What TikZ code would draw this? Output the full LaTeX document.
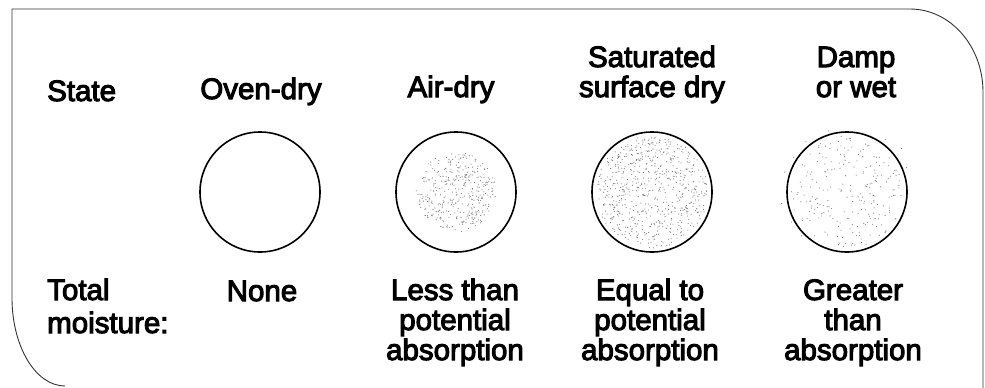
\documentclass[tikz,border=0pt]{standalone}
\usepackage{fontspec}
\setmainfont{Liberation Sans}
\newfontfamily\hvb{Liberation Sans}[FakeBold=3.5]
\usetikzlibrary{calc}
\begin{document}
\begin{tikzpicture}[x=1pt,y=-1pt,
  lbl/.style={font=\fontsize{29.5}{30}\hvb, align=center, inner sep=0pt, anchor=base},
  lbll/.style={font=\fontsize{29.5}{33}\hvb, align=left, inner sep=0pt, anchor=base west},
  ball/.style={circle, draw, line width=1.6pt, minimum size=120pt, inner sep=0pt},
  dot/.style={fill=black!55}]
\useasboundingbox (0,0) rectangle (985,388);
% frame
\draw[line width=0.9pt, black!80] (983,392) -- (983,92) arc[start angle=0, end angle=-90, x radius=73, y radius=83] -- (12,9) -- (12,298) arc[start angle=180, end angle=90, x radius=53, y radius=88];
% balls
\node[ball] (b1) at (260,192) {};
\node[ball] (b2) at (456,192) {};
\node[ball] (b3) at (652,192) {};
\node[ball] (b4) at (847,192) {};
% stipple
\pgfmathsetseed{7}
\foreach \i in {1,...,380}{
  \pgfmathsetmacro\rr{40*sqrt(rnd)}
  \pgfmathsetmacro\aa{360*rnd}
  \fill[dot] ($(b2)+(\aa:\rr)$) circle (0.55);
}
\foreach \i in {1,...,650}{
  \pgfmathsetmacro\rr{56*sqrt(rnd)}
  \pgfmathsetmacro\aa{360*rnd}
  \fill[dot] ($(b3)+(\aa:\rr)$) circle (0.55);
}
\foreach \i in {1,...,230}{
  \pgfmathsetmacro\rr{56*sqrt(rnd)}
  \pgfmathsetmacro\aa{360*rnd}
  \fill[dot] ($(b4)+(\aa:\rr)$) circle (0.55);
}
\foreach \i in {1,...,10}{
  \pgfmathsetmacro\rr{62+10*rnd}
  \pgfmathsetmacro\aa{360*rnd}
  \fill[dot] ($(b4)+(\aa:\rr)$) circle (0.55);
}
% headers
\node[lbll] (state) at (47,101) {State};
\node[lbl] (h1) at (261,99) {Oven-dry};
\node[lbl] (h2) at (451,97) {Air-dry};
\node[lbl] (h3) at (652,97) {Saturated\\surface dry};
\node[lbl] (h4) at (856,97) {Damp\\or wet};
% bottom
\node[lbll] (tm) at (47,333) {Total\\moisture:};
\node[lbl] (m1) at (262,301) {None};
\node[lbl] (m2) at (455,360) {Less than\\potential\\absorption};
\node[lbl] (m3) at (650,360) {Equal to\\potential\\absorption};
\node[lbl] (m4) at (853,360) {Greater\\than\\absorption};
\end{tikzpicture}
\end{document}
